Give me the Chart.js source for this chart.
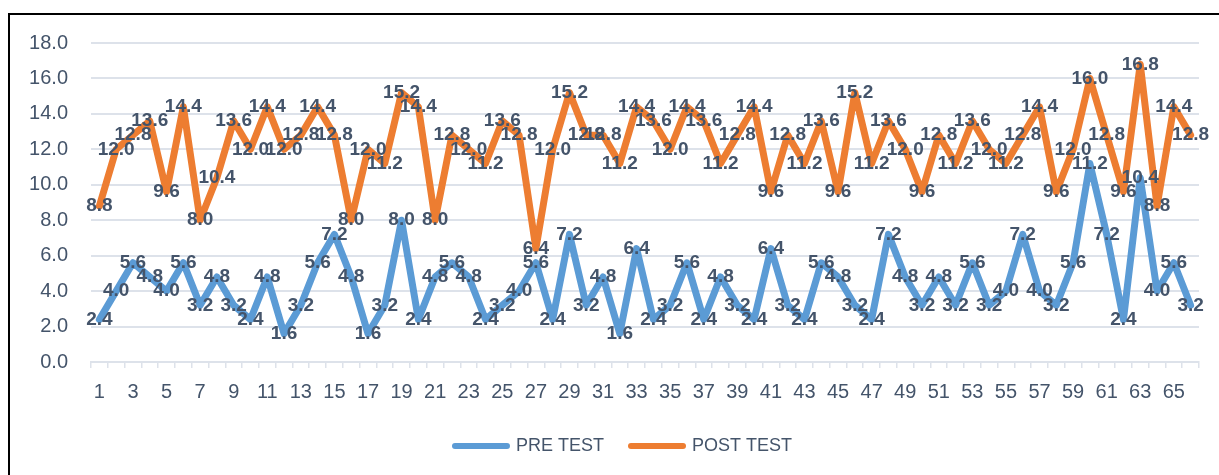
<!DOCTYPE html>
<html>
<head>
<meta charset="utf-8">
<title>Pre test / Post test</title>
<script src="https://cdn.jsdelivr.net/npm/chart.js@4.4.0/dist/chart.umd.min.js"></script>
<style>
    html, body { margin: 0; padding: 0; background: #ffffff; overflow: hidden; }
    #marco {
        position: absolute; left: 8px; top: 13px;
        width: 1300px; height: 600px;
        border-left: 2px solid #000; border-top: 2px solid #000;
    }
    #grafica { position: absolute; left: 0; top: 0; }
</style>
</head>
<body>
<div id="marco"></div>
<canvas id="grafica" width="1219" height="475"></canvas>
<script>
// Número de alumno (eje X)
const alumnos = [
    "1", "2", "3", "4", "5", "6", "7", "8", "9", "10",
    "11", "12", "13", "14", "15", "16", "17", "18", "19", "20",
    "21", "22", "23", "24", "25", "26", "27", "28", "29", "30",
    "31", "32", "33", "34", "35", "36", "37", "38", "39", "40",
    "41", "42", "43", "44", "45", "46", "47", "48", "49", "50",
    "51", "52", "53", "54", "55", "56", "57", "58", "59", "60",
    "61", "62", "63", "64", "65", "66"
];

const preTest = [
    2.4, 4.0, 5.6, 4.8, 4.0, 5.6, 3.2, 4.8, 3.2, 2.4,
    4.8, 1.6, 3.2, 5.6, 7.2, 4.8, 1.6, 3.2, 8.0, 2.4,
    4.8, 5.6, 4.8, 2.4, 3.2, 4.0, 5.6, 2.4, 7.2, 3.2,
    4.8, 1.6, 6.4, 2.4, 3.2, 5.6, 2.4, 4.8, 3.2, 2.4,
    6.4, 3.2, 2.4, 5.6, 4.8, 3.2, 2.4, 7.2, 4.8, 3.2,
    4.8, 3.2, 5.6, 3.2, 4.0, 7.2, 4.0, 3.2, 5.6, 11.2,
    7.2, 2.4, 10.4, 4.0, 5.6, 3.2
];

const postTest = [
    8.8, 12.0, 12.8, 13.6, 9.6, 14.4, 8.0, 10.4, 13.6, 12.0,
    14.4, 12.0, 12.8, 14.4, 12.8, 8.0, 12.0, 11.2, 15.2, 14.4,
    8.0, 12.8, 12.0, 11.2, 13.6, 12.8, 6.4, 12.0, 15.2, 12.8,
    12.8, 11.2, 14.4, 13.6, 12.0, 14.4, 13.6, 11.2, 12.8, 14.4,
    9.6, 12.8, 11.2, 13.6, 9.6, 15.2, 11.2, 13.6, 12.0, 9.6,
    12.8, 11.2, 13.6, 12.0, 11.2, 12.8, 14.4, 9.6, 12.0, 16.0,
    12.8, 9.6, 16.8, 8.8, 14.4, 12.8
];

const nombresSeries = ["PRE TEST", "POST TEST"];

const FUENTE = '"Liberation Sans", Arial, sans-serif';
const COLOR_TEXTO = "#44546A";
const COLOR_REJILLA = "#DDE2EA";

// Etiquetas con el valor encima de cada punto
const etiquetasDatos = {
    id: "etiquetasDatos",
    afterDatasetsDraw(chart) {
        const ctx = chart.ctx;
        ctx.save();
        ctx.font = `bold 19px ${FUENTE}`;
        ctx.fillStyle = COLOR_TEXTO;
        ctx.textAlign = "center";
        ctx.textBaseline = "middle";
        chart.data.datasets.forEach((ds, i) => {
            const meta = chart.getDatasetMeta(i);
            meta.data.forEach((punto, j) => {
                ctx.fillText(Number(ds.data[j]).toFixed(1), punto.x, punto.y);
            });
        });
        ctx.restore();
    }
};

// La leyenda queda un poco a la derecha del centro
const moverLeyenda = {
    id: "moverLeyenda",
    afterLayout(chart) {
        chart.legend.left += 24;
        chart.legend.right += 24;
    }
};

new Chart(document.getElementById("grafica"), {
    type: "line",
    data: {
        labels: alumnos,
        datasets: [
            {
                label: nombresSeries[0],
                data: preTest,
                borderColor: "#5B9BD5",
                backgroundColor: "#5B9BD5",
                borderWidth: 7,
                borderCapStyle: "round",
                borderJoinStyle: "round",
                pointRadius: 0,
                tension: 0
            },
            {
                label: nombresSeries[1],
                data: postTest,
                borderColor: "#ED7D31",
                backgroundColor: "#ED7D31",
                borderWidth: 7,
                borderCapStyle: "round",
                borderJoinStyle: "round",
                pointRadius: 0,
                tension: 0
            }
        ]
    },
    options: {
        responsive: false,
        animation: false,
        devicePixelRatio: 1,
        layout: { padding: { left: 0, right: 20, top: 43, bottom: 10 } },
        plugins: {
            legend: {
                position: "bottom",
                labels: {
                    usePointStyle: true,
                    pointStyle: "line",
                    pointStyleWidth: 52,
                    padding: 27,
                    color: COLOR_TEXTO,
                    font: { family: FUENTE, size: 18 },
                    generateLabels: (chart) =>
                        Chart.defaults.plugins.legend.labels.generateLabels(chart)
                            .map(item => ({ ...item, lineCap: "round", lineWidth: 6 }))
                }
            },
            tooltip: { enabled: false }
        },
        scales: {
            x: {
                offset: true,
                grid: {
                    offset: true,
                    drawOnChartArea: false,
                    drawTicks: true,
                    tickLength: 6,
                    color: COLOR_REJILLA,
                    lineWidth: 1.5
                },
                border: { color: COLOR_REJILLA, width: 2 },
                ticks: {
                    autoSkip: false,
                    maxRotation: 0,
                    padding: 12,
                    color: COLOR_TEXTO,
                    font: { family: FUENTE, size: 20 },
                    callback: (valor, i) => (i % 2 === 0 ? alumnos[i] : "")
                },
                afterFit: (escala) => { escala.height = 48; }
            },
            y: {
                min: 0,
                max: 18,
                ticks: {
                    stepSize: 2,
                    padding: 23,
                    color: COLOR_TEXTO,
                    font: { family: FUENTE, size: 20 },
                    callback: (valor) => Number(valor).toFixed(1)
                },
                grid: { drawTicks: false, color: COLOR_REJILLA, lineWidth: 2 },
                border: { display: false },
                afterFit: (escala) => { escala.width = 91; }
            }
        }
    },
    plugins: [etiquetasDatos, moverLeyenda]
});
</script>
</body>
</html>
